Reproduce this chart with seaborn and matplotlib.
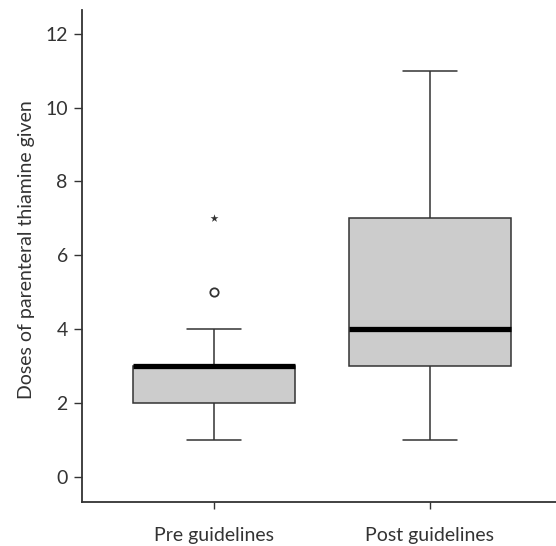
import matplotlib

matplotlib.use("Agg")

import matplotlib.pyplot as plt
import numpy as np
import pandas as pd
import seaborn as sns

sns.set_style("white")
plt.rcParams["font.family"] = ["Lato", "DejaVu Sans"]

groups = ["Pre guidelines", "Post guidelines"]
pre_doses = [1, 1, 2, 2, 2, 2, 2, 3, 3, 3, 3, 3, 3, 3, 3, 3, 4, 4, 5, 7]
post_doses = [1, 2, 3, 3, 3, 3, 4, 4, 4, 4, 4, 5, 6, 7, 7, 7, 8, 9, 10, 11]
y_ticks = [0, 2, 4, 6, 8, 10, 12]
y_label = "Doses of parenteral thiamine given"

df = pd.DataFrame({
    "group": [groups[0]] * len(pre_doses) + [groups[1]] * len(post_doses),
    "doses": pre_doses + post_doses,
})

# split outliers SPSS-style: circles beyond 1.5 IQR, stars beyond 3 IQR
mild, extreme = [], []
for g, sub in df.groupby("group", sort=False):
    q1, q3 = np.percentile(sub["doses"], [25, 75])
    iqr = q3 - q1
    for v in sub["doses"]:
        if v > q3 + 3 * iqr or v < q1 - 3 * iqr:
            extreme.append((g, v))
        elif v > q3 + 1.5 * iqr or v < q1 - 1.5 * iqr:
            mild.append((g, v))
mild = pd.DataFrame(mild, columns=["group", "doses"])
extreme = pd.DataFrame(extreme, columns=["group", "doses"])

ink = "#333333"
fig = plt.figure(figsize=(5.56, 5.46), dpi=100)
ax = fig.add_axes([0.147, 0.081, 0.853, 0.901])

sns.boxplot(data=df, x="group", y="doses", order=groups, ax=ax, width=0.75,
            color="#cccccc", linecolor=ink, linewidth=1.1, showfliers=False,
            saturation=1, capwidths=0.25,
            medianprops=dict(color="black", linewidth=3.8, solid_capstyle="butt"))
sns.stripplot(data=mild, x="group", y="doses", order=groups, ax=ax, jitter=False,
              marker="o", size=6, color="white", edgecolor=ink, linewidth=1.3)
sns.stripplot(data=extreme, x="group", y="doses", order=groups, ax=ax, jitter=False,
              marker="*", size=6, color=ink, linewidth=0)

ax.set_xlim(-0.614, 1.586)
ax.set_ylim(-0.68, 12.65)
ax.set_yticks(y_ticks)
ax.set_xlabel("")
ax.set_ylabel(y_label, fontsize=14, color=ink)
ax.yaxis.set_label_coords(-0.098, 0.512)
sns.despine(ax=ax)
for s in ["left", "bottom"]:
    ax.spines[s].set_color(ink)
    ax.spines[s].set_linewidth(1.3)
ax.tick_params(axis="y", left=True, length=6, width=1, color=ink,
               labelsize=14, labelcolor=ink, pad=4)
ax.tick_params(axis="x", bottom=True, length=5, width=1, color=ink,
               labelsize=14, labelcolor=ink, pad=13)

fig.savefig("out.png", dpi=100)
plt.close(fig)
